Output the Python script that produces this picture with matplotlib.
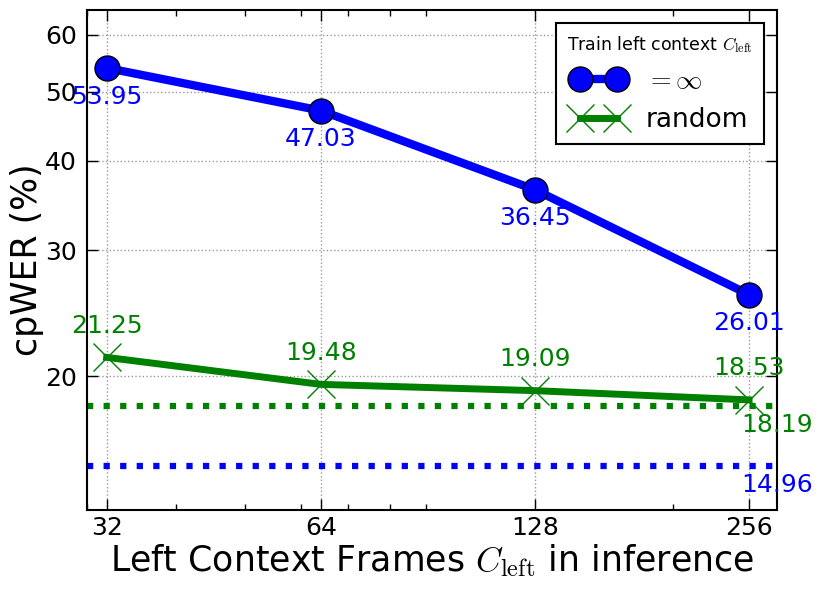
#!/usr/bin/env python3
"""
cpWER vs. left context frames used at inference time.
Compares a model trained with unlimited left context against one trained
with random left context; dotted lines are the full-context references.
"""

import matplotlib

matplotlib.use("Agg")
import matplotlib.pyplot as plt
from matplotlib.ticker import FixedLocator, NullFormatter, ScalarFormatter

# Data
left_frames = [32, 64, 128, 256]
wer_train_inf = [53.95, 47.03, 36.45, 26.01]
wer_train_random = [21.25, 19.48, 19.09, 18.53]

# full left context at inference (dotted references)
ref_train_random = 18.19
ref_train_inf = 14.96

y_ticks = [20, 30, 40, 50, 60]

BLUE = "#0000ff"
GREEN = "#008000"


def main():
    plt.rcParams["mathtext.fontset"] = "cm"
    plt.rcParams["font.family"] = "DejaVu Sans"

    fig = plt.figure(figsize=(8.3, 5.92), dpi=100)
    ax = fig.add_axes([0.1045, 0.1385, 0.8313, 0.8445])

    ax.plot(
        left_frames,
        wer_train_inf,
        color=BLUE,
        linewidth=6,
        marker="o",
        markersize=18,
        markerfacecolor=BLUE,
        markeredgecolor="black",
        markeredgewidth=1,
        label=r"$=\infty$",
    )
    ax.plot(
        left_frames,
        wer_train_random,
        color=GREEN,
        linewidth=5,
        marker="x",
        markersize=20,
        markeredgewidth=1,
        label="random",
    )

    ax.axhline(ref_train_random, color=GREEN, linestyle=":", linewidth=4.5)
    ax.axhline(ref_train_inf, color=BLUE, linestyle=":", linewidth=4.5)

    # value labels
    for x, y in zip(left_frames, wer_train_inf):
        ax.annotate(
            f"{y:.2f}",
            xy=(x, y),
            xytext=(0, -12),
            textcoords="offset points",
            ha="center",
            va="top",
            fontsize=18,
            color=BLUE,
        )
    for x, y in zip(left_frames, wer_train_random):
        ax.annotate(
            f"{y:.2f}",
            xy=(x, y),
            xytext=(0, 14),
            textcoords="offset points",
            ha="center",
            va="bottom",
            fontsize=18,
            color=GREEN,
        )
    for y, c in [(ref_train_random, GREEN), (ref_train_inf, BLUE)]:
        ax.annotate(
            f"{y:.2f}",
            xy=(280, y),
            xytext=(0, -5),
            textcoords="offset points",
            ha="center",
            va="top",
            fontsize=18,
            color=c,
            annotation_clip=False,
        )

    ax.set_xscale("log")
    ax.set_yscale("log")
    ax.set_xlim(30, 280)
    ax.set_ylim(13, 65)

    ax.xaxis.set_major_locator(FixedLocator(left_frames))
    ax.xaxis.set_major_formatter(ScalarFormatter())
    ax.xaxis.set_minor_formatter(NullFormatter())
    ax.yaxis.set_major_locator(FixedLocator(y_ticks))
    ax.yaxis.set_major_formatter(ScalarFormatter())
    ax.yaxis.set_minor_formatter(NullFormatter())

    ax.tick_params(which="both", direction="in", top=True, right=True)
    ax.tick_params(which="major", length=8, width=1, labelsize=18, pad=7)
    ax.tick_params(axis="x", which="major", pad=4)
    ax.tick_params(which="minor", length=4, width=1)
    for s in ax.spines.values():
        s.set_linewidth(1.5)

    ax.grid(True, which="major", linestyle=":", color="#999999", linewidth=1)
    ax.set_axisbelow(True)

    ax.set_xlabel(r"Left Context Frames $C_\mathrm{left}$ in inference",
                  fontsize=25, labelpad=2)
    ax.set_ylabel("cpWER (%)", fontsize=25, labelpad=1)

    leg = ax.legend(
        loc="upper right",
        title=r"Train left context $C_\mathrm{left}$",
        title_fontsize=12.5,
        fontsize=19,
        numpoints=2,
        handlelength=2.0,
        fancybox=False,
        framealpha=1,
        borderaxespad=0.5,
    )
    leg.get_frame().set_edgecolor("black")
    leg.get_frame().set_linewidth(1.5)

    fig.savefig("out.png", dpi=100)
    plt.close(fig)


if __name__ == "__main__":
    main()
